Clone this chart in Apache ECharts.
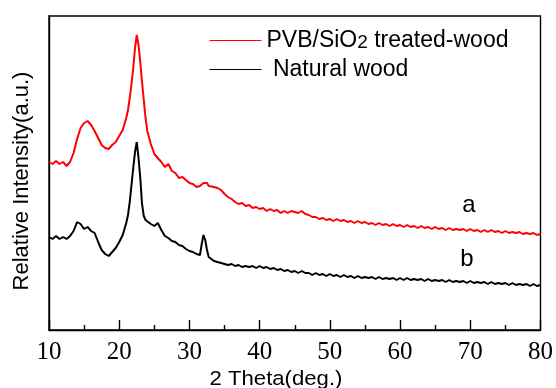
<!DOCTYPE html>
<html>
<head>
<meta charset="utf-8">
<script src="https://cdn.jsdelivr.net/npm/echarts@6/dist/echarts.min.js"></script>
<style>
  html, body { margin: 0; padding: 0; background: #fff; }
  #xrdChart { width: 556px; height: 388px; }
</style>
</head>
<body>
<div id="xrdChart"></div>
<script>
// 2 theta (deg.)
var angles = [
  10, 10.5, 11, 11.5, 12, 12.5, 13, 13.5, 14, 14.5, 15, 15.5, 16, 16.5, 17, 17.5, 18, 18.5, 19, 19.5, 20, 20.5, 21,
  21.25, 21.5, 21.75, 22, 22.25, 22.5, 22.75, 23, 23.25, 23.5, 23.75, 24,
  24.5, 25, 25.5, 26, 26.5, 27, 27.5, 28, 28.5, 29, 29.5, 30, 30.5, 31, 31.5,
  31.75, 32, 32.25, 32.5, 32.75, 33,
  33.5, 34, 34.5, 35, 35.5, 36, 36.5, 37, 37.5, 38, 38.5, 39, 39.5, 40, 40.5, 41, 41.5, 42, 42.5, 43, 43.5,
  44, 44.5, 45, 45.5, 46, 46.5, 47, 47.5, 48, 48.5, 49, 49.5, 50, 50.5, 51, 51.5, 52, 52.5, 53, 53.5,
  54, 54.5, 55, 55.5, 56, 56.5, 57, 57.5, 58, 58.5, 59, 59.5, 60, 60.5, 61, 61.5, 62, 62.5, 63, 63.5,
  64, 64.5, 65, 65.5, 66, 66.5, 67, 67.5, 68, 68.5, 69, 69.5, 70, 70.5, 71, 71.5, 72, 72.5, 73, 73.5,
  74, 74.5, 75, 75.5, 76, 76.5, 77, 77.5, 78, 78.5, 79, 79.5, 80
];

// curve a, PVB/SiO2 treated-wood (relative intensity)
var treatedWood = [
  168, 166, 169, 166, 168, 164, 168, 177, 191, 202, 207, 209, 205, 199, 192, 185, 182, 181, 185, 188, 194, 200, 212,
  220, 232, 246, 262, 282, 295, 285, 268, 248, 230, 212, 199,
  186, 176, 172, 168, 163, 166, 159, 157, 152, 153, 150, 147, 146, 143, 144,
  142, 147, 145, 147, 144, 146,
  143, 142, 140, 136, 133, 131, 128, 126, 127, 124, 125, 122, 123, 121, 122, 119, 121, 119, 120, 117, 119,
  117, 119, 118, 117, 119, 116, 115, 113, 113, 111, 112, 110, 111, 109, 111, 109, 110, 108, 109, 107,
  109, 107, 108, 106, 107, 105, 107, 105, 106, 104, 106, 104, 105, 103, 105, 103, 104, 102, 104, 102,
  103, 101, 103, 101, 102, 100, 102, 100, 101, 100, 101, 99, 101, 99, 100, 98, 100, 98, 100, 98,
  99, 97, 99, 97, 98, 97, 98, 96, 97, 96, 97, 95, 96
];

// curve b, natural wood (relative intensity)
var naturalWood = [
  93, 91, 94, 91, 93, 91, 94, 99, 108, 106, 101, 103, 99, 97, 88, 80, 76, 74, 78, 82, 88, 95, 107,
  115, 128, 145, 162, 178, 188, 172, 152, 126, 114, 110, 108,
  106, 104, 107, 100, 94, 92, 89, 88, 85, 84, 81, 79, 78, 76, 75,
  86, 95, 90, 80, 73, 71,
  69, 68, 67, 66, 65, 66, 64, 65, 63, 64, 63, 64, 62, 64, 62, 63, 61, 62, 60, 61, 59,
  60, 58, 59, 57, 59, 57, 57, 55, 57, 55, 56, 54, 56, 54, 55, 53, 55, 53, 54, 52,
  54, 52, 53, 52, 53, 51, 53, 51, 52, 51, 52, 50, 52, 50, 52, 50, 51, 50, 51, 49,
  51, 49, 50, 49, 50, 48, 50, 48, 49, 48, 49, 47, 49, 47, 48, 47, 48, 46, 48, 46,
  47, 46, 47, 45, 47, 45, 46, 45, 46, 44, 46, 44, 45
];

var seriesNames = ['PVB/SiO2 treated-wood', 'Natural wood'];
var seriesColors = ['#ff0000', '#000000'];
var curveTags = ['a', 'b'];

function pairs(xs, ys) {
  var out = [];
  for (var i = 0; i < xs.length; i++) out.push([xs[i], ys[i]]);
  return out;
}

var myChart = echarts.init(document.getElementById('xrdChart'));

var option = {
  animation: false,
  backgroundColor: '#fff',
  grid: {
    left: 49,
    top: 16,
    right: 13,
    bottom: 58,
    show: true,
    borderColor: '#000',
    borderWidth: 1.4
  },
  legend: {
    orient: 'vertical',
    left: 209,
    top: 29,
    padding: 0,
    itemWidth: 52,
    itemHeight: 23,
    itemGap: 6,
    data: [
      { name: seriesNames[0], lineStyle: { color: seriesColors[0], width: 1 } },
      { name: seriesNames[1], lineStyle: { color: seriesColors[1], width: 1 } }
    ],
    itemStyle: { opacity: 0 },
    formatter: function (name) {
      if (name === seriesNames[0]) return 'PVB/SiO{sub|2} treated-wood';
      return ' ' + name;
    },
    textStyle: {
      color: '#000',
      fontFamily: 'Liberation Sans, Arial, sans-serif',
      fontSize: 23,
      rich: {
        sub: {
          fontSize: 19,
          fontFamily: 'Liberation Sans, Arial, sans-serif',
          color: '#000',
          verticalAlign: 'bottom'
        }
      }
    }
  },
  xAxis: {
    type: 'value',
    min: 10,
    max: 80,
    interval: 10,
    axisLine: { show: true, lineStyle: { color: '#000', width: 1.4 } },
    axisTick: { show: true, inside: true, length: 10, lineStyle: { color: '#000', width: 1.4 } },
    minorTick: { show: true, splitNumber: 2, length: 5, lineStyle: { color: '#000', width: 1.4 } },
    splitLine: { show: false },
    axisLabel: {
      margin: 10,
      color: '#000',
      fontFamily: 'Liberation Serif, Times New Roman, serif',
      fontSize: 25
    }
  },
  yAxis: {
    type: 'value',
    min: 0,
    max: 314,
    axisLine: { show: true, lineStyle: { color: '#000', width: 1.4 } },
    axisTick: { show: false },
    axisLabel: { show: false },
    splitLine: { show: false }
  },
  graphic: [
    {
      type: 'text',
      x: 276,
      y: 379,
      scaleX: 1.08,
      style: {
        text: '2 Theta(deg.)',
        x: 0, y: 0,
        align: 'center',
        verticalAlign: 'middle',
        fill: '#000',
        font: '20.5px "Liberation Sans", Arial, sans-serif'
      }
    },
    {
      type: 'text',
      x: 22,
      y: 181,
      rotation: Math.PI / 2,
      style: {
        text: 'Relative Intensity(a.u.)',
        x: 0, y: 0,
        align: 'center',
        verticalAlign: 'middle',
        fill: '#000',
        font: '22px "Liberation Sans", Arial, sans-serif'
      }
    },
    {
      type: 'text',
      x: 469,
      y: 205,
      style: {
        text: curveTags[0],
        x: 0, y: 0,
        align: 'center',
        verticalAlign: 'middle',
        fill: '#000',
        font: '24px "Liberation Sans", Arial, sans-serif'
      }
    },
    {
      type: 'text',
      x: 467,
      y: 259,
      style: {
        text: curveTags[1],
        x: 0, y: 0,
        align: 'center',
        verticalAlign: 'middle',
        fill: '#000',
        font: '24px "Liberation Sans", Arial, sans-serif'
      }
    }
  ],
  series: [
    {
      name: seriesNames[0],
      type: 'line',
      data: pairs(angles, treatedWood),
      symbol: 'none',
      lineStyle: { color: seriesColors[0], width: 2 },
      itemStyle: { color: seriesColors[0] }
    },
    {
      name: seriesNames[1],
      type: 'line',
      data: pairs(angles, naturalWood),
      symbol: 'none',
      lineStyle: { color: seriesColors[1], width: 2 },
      itemStyle: { color: seriesColors[1] }
    }
  ]
};

myChart.setOption(option);
</script>
</body>
</html>
